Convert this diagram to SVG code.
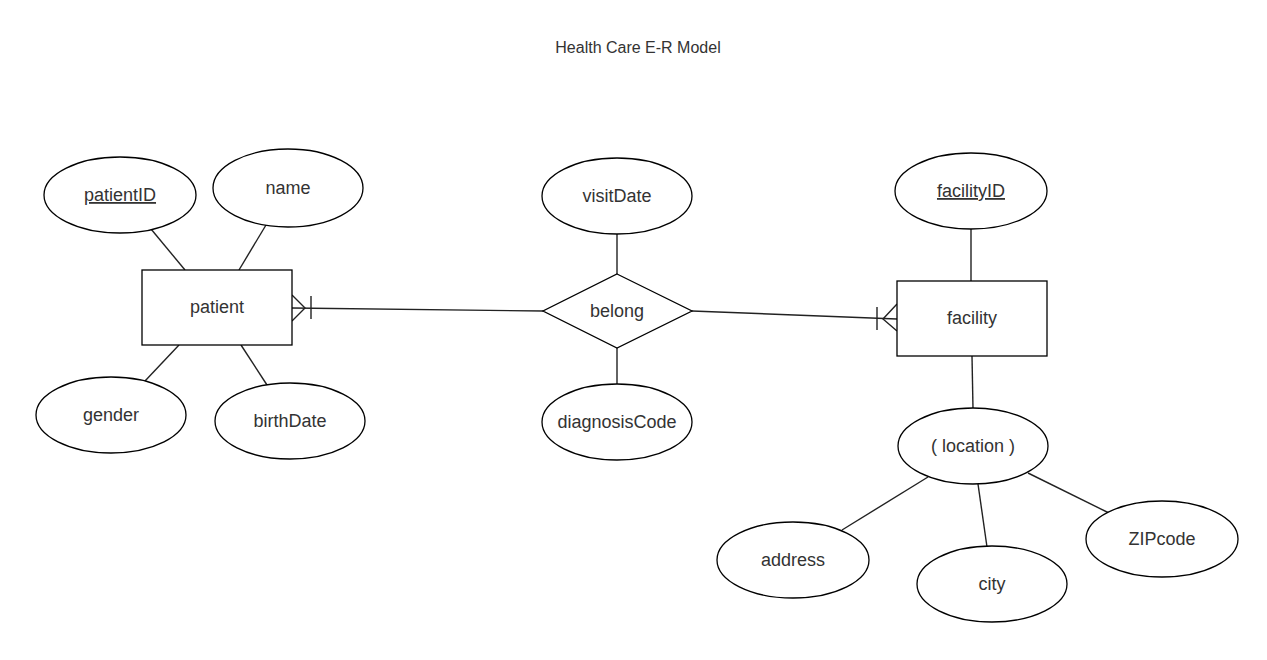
<svg xmlns="http://www.w3.org/2000/svg" width="1267" height="660" viewBox="0 0 1267 660">
<style>
.s{fill:#fff;stroke:#000;stroke-width:1.3}
.c{fill:none;stroke:#222;stroke-width:1.4}
text{font-family:"Liberation Sans",Arial,sans-serif;font-size:18px;fill:#333;text-anchor:middle}
.t{font-size:16px}
.u{text-decoration:underline}
</style>
<rect width="1267" height="660" fill="#fff"/>
<text class="t" x="638" y="53">Health Care E-R Model</text>
<g id="connectors">
<line class="c" x1="151" y1="229" x2="185" y2="270"/>
<line class="c" x1="266" y1="225" x2="239" y2="270"/>
<line class="c" x1="179" y1="345" x2="145" y2="381"/>
<line class="c" x1="241" y1="345" x2="267" y2="385"/>
<line class="c" x1="292" y1="308" x2="543" y2="311"/>
<path class="c" d="M292 295 L305 308 L292 321 M311 296 V319"/>
<line class="c" x1="692" y1="311" x2="897" y2="319"/>
<path class="c" d="M897 304 L883 319 L897 331 M877 307 V330"/>
<line class="c" x1="617" y1="234" x2="617" y2="274"/>
<line class="c" x1="617" y1="348" x2="617" y2="385"/>
<line class="c" x1="971" y1="229" x2="971" y2="281"/>
<line class="c" x1="972" y1="356" x2="973" y2="409"/>
<line class="c" x1="928" y1="477" x2="842" y2="530"/>
<line class="c" x1="978" y1="484" x2="987" y2="547"/>
<line class="c" x1="1028" y1="473" x2="1109" y2="513"/>
</g>
<g id="patientID"><ellipse class="s" cx="120" cy="195" rx="76" ry="38"/><text class="u" x="120" y="201">patientID</text></g>
<g id="name"><ellipse class="s" cx="288" cy="188" rx="75" ry="39"/><text x="288" y="194">name</text></g>
<g id="patient"><rect class="s" x="142" y="270" width="150" height="75"/><text x="217" y="313">patient</text></g>
<g id="gender"><ellipse class="s" cx="111" cy="415" rx="75" ry="38"/><text x="111" y="421">gender</text></g>
<g id="birthDate"><ellipse class="s" cx="290" cy="421" rx="75" ry="38"/><text x="290" y="427">birthDate</text></g>
<g id="visitDate"><ellipse class="s" cx="617" cy="196" rx="75" ry="38"/><text x="617" y="202">visitDate</text></g>
<g id="belong"><polygon class="s" points="617,274 692,311 617,348 543,311"/><text x="617" y="317">belong</text></g>
<g id="diagnosisCode"><ellipse class="s" cx="617" cy="422" rx="75" ry="38"/><text x="617" y="428">diagnosisCode</text></g>
<g id="facilityID"><ellipse class="s" cx="971" cy="191" rx="76" ry="38"/><text class="u" x="971" y="197">facilityID</text></g>
<g id="facility"><rect class="s" x="897" y="281" width="150" height="75"/><text x="972" y="324">facility</text></g>
<g id="location"><ellipse class="s" cx="973" cy="446" rx="75" ry="38"/><text x="973" y="452">( location )</text></g>
<g id="address"><ellipse class="s" cx="793" cy="560" rx="76" ry="38"/><text x="793" y="566">address</text></g>
<g id="city"><ellipse class="s" cx="992" cy="584" rx="75" ry="38"/><text x="992" y="590">city</text></g>
<g id="ZIPcode"><ellipse class="s" cx="1162" cy="539" rx="76" ry="38"/><text x="1162" y="545">ZIPcode</text></g>
</svg>
